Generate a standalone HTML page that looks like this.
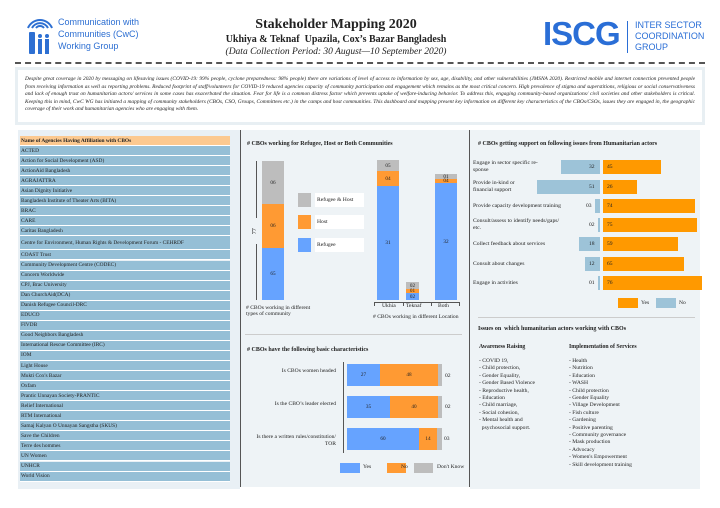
<!DOCTYPE html>
<html><head><meta charset="utf-8"><style>
*{margin:0;padding:0;box-sizing:border-box}
body{width:720px;height:508px;background:#fff;position:relative;overflow:hidden;font-family:"Liberation Serif",serif;color:#222}
.a{position:absolute}
.t{position:absolute;font-size:5.6px;line-height:6.5px;white-space:nowrap}
.row{position:absolute;left:20px;width:210px;background:#95bfd6;border-bottom:1px solid #fff;font-size:5.4px;padding-left:1px;display:flex;align-items:center}
.c{display:flex;align-items:center;justify-content:center;font-size:5.2px}
</style></head><body>
<svg class="a" style="left:26px;top:14px" width="30" height="44" viewBox="0 0 30 44">
<g fill="none" stroke="#2d6fd2" stroke-width="2"><path d="M6 14 A9 9 0 0 1 22 14"/><path d="M2 14 A13 13 0 0 1 26 14"/><path d="M10 14 A5 5 0 0 1 18 14"/></g>
<rect x="3" y="18" width="6" height="22" rx="1" fill="#2d6fd2"/><circle cx="14" cy="22" r="2" fill="#2d6fd2"/><rect x="12" y="25" width="4" height="15" fill="#2d6fd2"/><circle cx="21" cy="22" r="2" fill="#2d6fd2"/><rect x="19" y="25" width="4" height="15" fill="#2d6fd2"/></svg>
<div class="a" style="left:58px;top:16px;font-family:'Liberation Sans',sans-serif;font-size:9px;line-height:12px;color:#2d6fd2">Communication with<br>Communities (CwC)<br>Working Group</div>
<div class="a" style="left:206px;top:17px;width:260px;text-align:center;font-size:14px;font-weight:bold">Stakeholder Mapping 2020</div>
<div class="a" style="left:191px;top:34px;width:290px;text-align:center;font-size:10px;font-weight:bold">Ukhiya &amp; Teknaf&nbsp; Upazila, Cox’s Bazar Bangladesh</div>
<div class="a" style="left:191px;top:47px;width:290px;text-align:center;font-size:9.5px;font-style:italic">(Data Collection Period: 30 August—10 September 2020)</div>
<div class="a" style="left:543px;top:16px;font-family:'Liberation Sans',sans-serif;font-size:33px;font-weight:bold;color:#2a6ed6;letter-spacing:-1px;line-height:36px">ISCG</div>
<div class="a" style="left:627px;top:21px;width:1px;height:32px;background:#2a6ed6"></div>
<div class="a" style="left:635px;top:20px;font-family:'Liberation Sans',sans-serif;font-size:9px;line-height:11px;color:#2a6ed6">INTER SECTOR<br>COORDINATION<br>GROUP</div>
<div class="a" style="left:15px;top:62px;width:690px;border-top:2px dashed #555"></div>
<div class="a" style="left:15px;top:67px;width:690px;height:58px;background:#fff;border:3px solid #e8eff3;padding:6px 7px;font-size:5.4px;line-height:7.5px;font-style:italic;text-align:justify">Despite great coverage in 2020 by messaging on lifesaving issues (COVID-19: 99% people, cyclone preparedness: 98% people) there are variations of level of access to information by sex, age, disability, and other vulnerabilities (JMSNA 2020). Restricted mobile and internet connection prevented people from receiving information as well as reporting problems. Reduced footprint of staff/volunteers for COVID-19 reduced agencies capacity of community participation and engagement which remains as the most critical concern. High prevalence of stigma and superstitions, religious or social conservativeness and lack of enough trust on humanitarian actors/ services in some cases has exacerbated the situation. Fear for life is a common distress factor which prevents uptake of welfare-inducing behavior. To address this, engaging community-based organizations/ civil societies and other stakeholders is critical. Keeping this in mind, CwC WG has initiated a mapping of community stakeholders (CBOs, CSO, Groups, Committees etc.) in the camps and host communities. This dashboard and mapping present key information on different key characteristics of the CBOs/CSOs, issues they are engaged in, the geographic coverage of their work and humanitarian agencies who are engaging with them.</div>

<div class="a" style="left:18px;top:130px;width:222px;height:359px;background:#e9f0f5"></div>
<div class="row" style="top:136px;height:10px;background:#fcc990;font-weight:bold">Name of Agencies Having Affiliation with CBOs</div>
<div id="rows"></div>

<div class="a" style="left:240px;top:130px;width:230px;height:357px;background:#eef3f6;border-left:1px solid #555;border-right:1px solid #555"></div>
<div class="t" style="left:247px;top:141px;font-weight:bold;font-size:6px"># CBOs working for Refugee, Host or Both Communities</div>
<div class="a c" style="left:262px;top:161px;width:22px;height:43px;background:#bdbdbd">06</div>
<div class="a c" style="left:262px;top:204px;width:22px;height:44px;background:#ff9a33">06</div>
<div class="a c" style="left:262px;top:248px;width:22px;height:52px;background:#66a3ff">65</div>
<div class="a" style="left:256px;top:161px;width:1px;height:57px;background:#555"></div>
<div class="a" style="left:256px;top:244px;width:1px;height:56px;background:#555"></div>
<div class="t" style="left:252px;top:228px;transform:rotate(-90deg);font-size:6px">77</div>
<div class="a" style="left:298px;top:193px;width:13px;height:14px;background:#bdbdbd"></div>
<div class="a t" style="left:315px;top:193px;width:49px;height:14px;background:#fff;padding:4px 2px">Refugee &amp; Host</div>
<div class="a" style="left:298px;top:215px;width:13px;height:14px;background:#ff9a33"></div>
<div class="a t" style="left:315px;top:215px;width:49px;height:14px;background:#fff;padding:4px 2px">Host</div>
<div class="a" style="left:298px;top:238px;width:13px;height:14px;background:#66a3ff"></div>
<div class="a t" style="left:315px;top:238px;width:49px;height:14px;background:#fff;padding:4px 2px">Refugee</div>
<div class="t" style="left:246px;top:305px;line-height:6px">#&nbsp;CBOs working in different<br>types of community</div>
<div class="a c" style="left:377px;top:160px;width:22px;height:11px;background:#bdbdbd">05</div>
<div class="a c" style="left:377px;top:171px;width:22px;height:15px;background:#ff9a33">04</div>
<div class="a c" style="left:377px;top:186px;width:22px;height:114px;background:#66a3ff">31</div>
<div class="a c" style="left:406px;top:282px;width:13px;height:7px;background:#bdbdbd">02</div>
<div class="a c" style="left:406px;top:289px;width:13px;height:4px;background:#ff9a33">01</div>
<div class="a c" style="left:406px;top:293px;width:13px;height:7px;background:#66a3ff">02</div>
<div class="a c" style="left:435px;top:174px;width:22px;height:5px;background:#bdbdbd">01</div>
<div class="a c" style="left:435px;top:179px;width:22px;height:4px;background:#ff9a33">04</div>
<div class="a c" style="left:435px;top:183px;width:22px;height:117px;background:#66a3ff">32</div>
<div class="a" style="left:374px;top:302px;width:86px;height:4px;border:1px solid #555;border-bottom:none"></div>
<div class="a" style="left:403px;top:302px;width:1px;height:4px;background:#555"></div>
<div class="a" style="left:431px;top:302px;width:1px;height:4px;background:#555"></div>
<div class="t" style="left:382px;top:303px">Ukhia</div><div class="t" style="left:406px;top:303px">Teknaf</div><div class="t" style="left:438px;top:303px">Both</div>
<div class="t" style="left:373px;top:314px"># CBOs working in different Location</div>
<div class="a" style="left:245px;top:334px;width:217px;height:1px;background:#ccc"></div>
<div class="t" style="left:247px;top:347px;font-weight:bold;font-size:6px"># CBOs have the following basic characteristics</div>
<div class="a" style="left:343px;top:362px;width:1px;height:91px;background:#555"></div>
<div class="t" style="left:250px;top:368px;width:86px;text-align:right">Is CBOs women headed</div>
<div class="t" style="left:250px;top:401px;width:86px;text-align:right">Is the CBO’s leader elected</div>
<div class="t" style="left:250px;top:434px;width:86px;text-align:right;white-space:normal">Is there a written rules/constitution/ TOR</div>
<div class="a c" style="left:347px;top:364px;width:33px;height:22px;background:#66a3ff">27</div>
<div class="a c" style="left:380px;top:364px;width:58px;height:22px;background:#ff9a33">48</div>
<div class="a" style="left:438px;top:364px;width:4px;height:22px;background:#bdbdbd"></div><div class="t" style="left:445px;top:373px">02</div>
<div class="a c" style="left:347px;top:396px;width:43px;height:22px;background:#66a3ff">35</div>
<div class="a c" style="left:390px;top:396px;width:48px;height:22px;background:#ff9a33">40</div>
<div class="a" style="left:438px;top:396px;width:4px;height:22px;background:#bdbdbd"></div><div class="t" style="left:445px;top:404px">02</div>
<div class="a c" style="left:347px;top:428px;width:72px;height:22px;background:#66a3ff">60</div>
<div class="a c" style="left:419px;top:428px;width:18px;height:22px;background:#ff9a33">14</div>
<div class="a" style="left:437px;top:428px;width:5px;height:22px;background:#bdbdbd"></div><div class="t" style="left:444px;top:436px">03</div>
<div class="a" style="left:340px;top:463px;width:20px;height:10px;background:#66a3ff"></div><div class="t" style="left:363px;top:464px">Yes</div>
<div class="a" style="left:387px;top:463px;width:19px;height:10px;background:#ff9a33"></div><div class="t" style="left:401px;top:464px">No</div>
<div class="a" style="left:414px;top:463px;width:19px;height:10px;background:#bdbdbd"></div><div class="t" style="left:437px;top:464px">Don't Know</div>

<div class="a" style="left:470px;top:130px;width:230px;height:359px;background:#eef3f6"></div>
<div class="t" style="left:478px;top:141px;font-weight:bold;font-size:6px"># CBOs getting support on following issues from Humanitarian actors</div>
<div id="rb"></div>
<div class="a" style="left:618px;top:298px;width:20px;height:10px;background:#ff9900"></div><div class="t" style="left:641px;top:300px">Yes</div>
<div class="a" style="left:656px;top:298px;width:20px;height:10px;background:#9dc3d8"></div><div class="t" style="left:679px;top:300px">No</div>
<div class="a" style="left:478px;top:317px;width:217px;height:1px;background:#ccc"></div>
<div class="t" style="left:478px;top:326px;font-weight:bold;font-size:6px">Issues on&nbsp; which humanitarian actors working with CBOs</div>
<div class="t" style="left:479px;top:344px;font-weight:bold;font-size:5.8px">Awareness Raising</div>
<div class="t" style="left:569px;top:344px;font-weight:bold;font-size:5.8px">Implementation of Services</div>
<div class="t" style="left:479px;top:358px;line-height:7.4px">- COVID 19,<br>- Child protection,<br>- Gender Equality,<br>- Gender Based Violence<br>- Reproductive health,<br>- Education<br>- Child marriage,<br>- Social cohesion,<br>- Mental health and<br>&nbsp; psychosocial support.</div>
<div class="t" style="left:569px;top:358px;line-height:7.4px">- Health<br>- Nutrition<br>- Education<br>- WASH<br>- Child protection<br>- Gender Equality<br>- Village Development<br>- Fish culture<br>- Gardening<br>- Positive parenting<br>- Community governance<br>- Mask production<br>- Advocacy<br>- Women's Empowerment<br>- Skill development training</div>
<script>
var names=["ACTED","Action for Social Development (ASD)","ActionAid Bangladesh","AGRAJATTRA","Asian Dignity Initiative","Bangladesh Institute of Theater Arts (BITA)","BRAC","CARE","Caritas Bangladesh","Centre for Environment, Human Rights &amp; Development Forum - CEHRDF","COAST Trust","Community Development Centre (CODEC)","Concern Worldwide","CPJ, Brac University","Dan ChurchAid(DCA)","Danish Refugee Council-DRC","EDUCO","FIVDB","Good Neighbors Bangladesh","International Rescue Committee (IRC)","IOM","Light House","Mukti Cox's Bazar","Oxfam","Prantic Unnayan Society-PRANTIC","Relief International","RTM International","Samaj Kalyan O Unnayan Sangstha (SKUS)","Save the Children","Terre des hommes","UN Women","UNHCR","World Vision"];
var y=146,h="";
names.forEach(function(n,i){var hh=i==9?14:10.05;h+='<div class="row" style="top:'+y+'px;height:'+hh+'px">'+n+'</div>';y+=hh;});
document.getElementById('rows').innerHTML=h;
var rb=[["Engage in sector specific re-<br>sponse",160,39,58,"32","45"],["Provide in-kind or<br>financial support",180,63,34,"51","26"],["Provide capacity development training",199,5,92,"03","74"],["Consult/assess to identify needs/gaps/<br>etc.",218,2,94,"02","75"],["Collect feedback about services",237,21,75,"18","59"],["Consult about changes",257,15,81,"12","65"],["Engage in activities",276,2,99,"01","76"]];
h="";
rb.forEach(function(r){var t=r[1];
h+='<div class="t" style="left:473px;top:'+(t+(r[0].indexOf("<br>")>0?0:4))+'px;font-size:5.7px">'+r[0]+'</div>';
h+='<div class="a" style="left:'+(600-r[2])+'px;top:'+t+'px;width:'+r[2]+'px;height:13.5px;background:#9dc3d8"></div>';
var nx=r[2]<8?(600-r[2]-9):(597-8);
h+='<div class="t" style="left:'+nx+'px;top:'+(t+4)+'px">'+r[4]+'</div>';
h+='<div class="a" style="left:603px;top:'+t+'px;width:'+r[3]+'px;height:13.5px;background:#ff9900"></div>';
h+='<div class="t" style="left:607px;top:'+(t+4)+'px">'+r[5]+'</div>';});
document.getElementById('rb').innerHTML=h;
</script>
</body></html>
